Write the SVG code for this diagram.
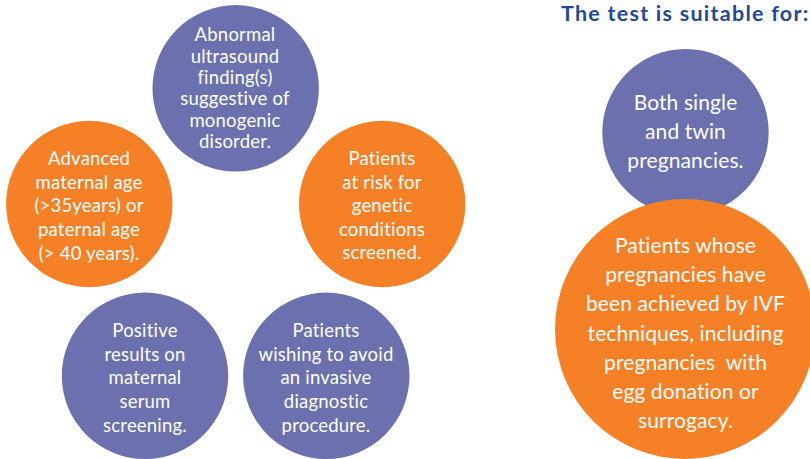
<svg xmlns="http://www.w3.org/2000/svg" width="810" height="459" viewBox="0 0 810 459">
<style>
.b{fill:#6a71ae}.o{fill:#f58025}
text{font-family:"Lato","Noto Sans",sans-serif;fill:#fff;text-anchor:middle;font-size:18.5px;letter-spacing:.2px;white-space:pre}
.l text{font-size:21px;letter-spacing:.1px}
text.h{font-size:21.5px;font-weight:700;fill:#1f4a91;text-anchor:start;letter-spacing:1.25px}
</style>
<rect width="810" height="459" fill="#fff"/>
<g id="connectors"/>
<g id="n1"><circle class="b" cx="235.7" cy="88.3" r="83.2"/><text x="235" y="41">Abnormal</text><text x="235" y="63">ultrasound</text><text x="235" y="84">finding(s)</text><text x="235" y="105">suggestive of</text><text x="235" y="127">monogenic</text><text x="235" y="148">disorder.</text></g>
<g id="n2"><circle class="o" cx="382.2" cy="204" r="83.2"/><text x="382" y="165">Patients</text><text x="382" y="189">at risk for</text><text x="382" y="212">genetic</text><text x="382" y="236">conditions</text><text x="382" y="259">screened.</text></g>
<g id="n3"><circle class="o" cx="89.3" cy="204" r="83.2"/><text x="89" y="165">Advanced</text><text x="89" y="189">maternal age</text><text x="89" y="212">(&gt;35years) or</text><text x="89" y="236">paternal age</text><text x="89" y="260">(&gt; 40 years).</text></g>
<g id="n4"><circle class="b" cx="145" cy="375.8" r="83.2"/><text x="145" y="337">Positive</text><text x="145" y="361">results on</text><text x="145" y="384">maternal</text><text x="145" y="408">serum</text><text x="145" y="432">screening.</text></g>
<g id="n5"><circle class="b" cx="326.3" cy="375.8" r="83.2"/><text x="326" y="337">Patients</text><text x="326" y="361">wishing to avoid</text><text x="326" y="384">an invasive</text><text x="326" y="408">diagnostic</text><text x="326" y="432">procedure.</text></g>
<text class="h" x="561" y="21.3">The test is suitable for:</text>
<g id="n6" class="l"><circle class="b" cx="685.5" cy="132.2" r="83.2"/><text x="685.5" y="110">Both single</text><text x="685.5" y="139">and twin</text><text x="685.5" y="168">pregnancies.</text></g>
<g id="n7" class="l"><circle class="o" cx="685" cy="329" r="130"/><text x="685.5" y="253">Patients whose</text><text x="685.5" y="282">pregnancies have</text><text x="685.5" y="311">been achieved by IVF</text><text x="685.5" y="341">techniques, including</text><text x="685.5" y="370">pregnancies  with</text><text x="685.5" y="399">egg donation or</text><text x="685.5" y="428">surrogacy.</text></g>
</svg>
